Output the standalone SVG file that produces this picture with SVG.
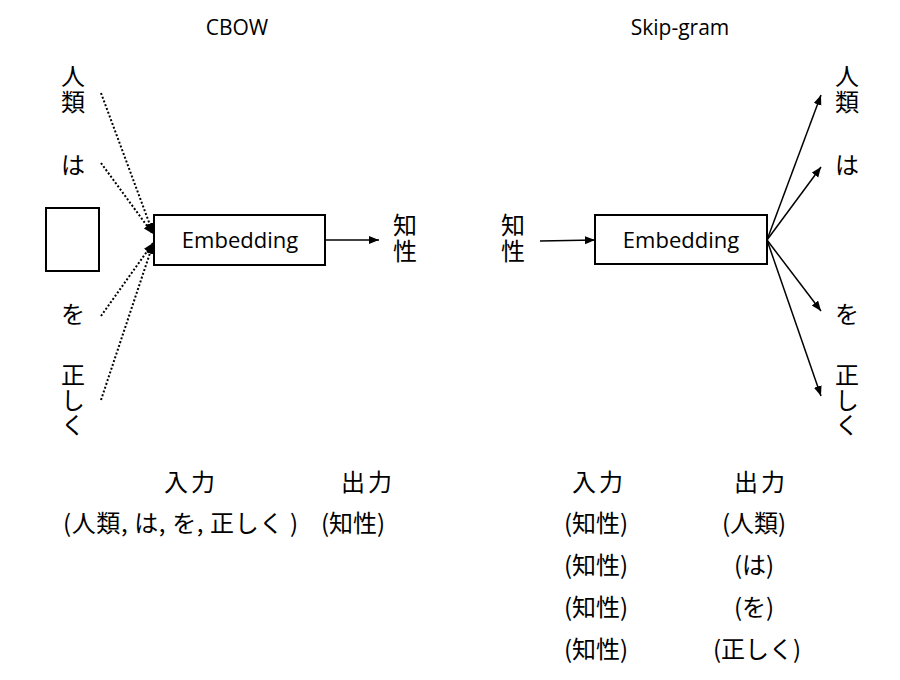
<svg xmlns="http://www.w3.org/2000/svg" width="900" height="680" viewBox="0 0 900 680">
  <style>
    .lat { font-family: "Open Sans", "Liberation Sans", sans-serif; fill: #000; }
    .jp { font-family: "Noto Sans CJK JP", "Noto Sans", sans-serif; font-size: 24px; fill: #000; }
    .vt { writing-mode: vertical-rl; }
    .box { fill: #fff; stroke: #000; stroke-width: 2; }
    .conn { fill: none; stroke: #000; stroke-width: 1.5; }
    .dot { fill: none; stroke: #000; stroke-width: 2; stroke-dasharray: 2 2; }
  </style>
  <defs>
    <marker id="ah" markerUnits="userSpaceOnUse" markerWidth="11" markerHeight="9" refX="10" refY="4" orient="auto">
      <path d="M0,0 L10,4 L0,8 z" fill="#000"/>
    </marker>
  </defs>
  <rect width="900" height="680" fill="#fff"/>

  <!-- titles -->
  <g id="title-cbow"><text class="lat" x="237" y="35" font-size="21" text-anchor="middle">CBOW</text></g>
  <g id="title-skipgram"><text class="lat" x="680" y="35" font-size="21" text-anchor="middle">Skip-gram</text></g>

  <!-- CBOW left words -->
  <g id="cbow-w1"><text class="jp vt" x="73" y="64" letter-spacing="2">人類</text></g>
  <g id="cbow-w2"><text class="jp" x="73" y="174" text-anchor="middle">は</text></g>
  <g id="cbow-blank"><rect class="box" x="46" y="208" width="53" height="63"/></g>
  <g id="cbow-w3"><text class="jp" x="73" y="323" text-anchor="middle">を</text></g>
  <g id="cbow-w4"><text class="jp vt" x="73" y="363" letter-spacing="1">正しく</text></g>

  <g id="cbow-embedding">
    <rect class="box" x="154" y="215" width="171" height="50"/>
    <text class="lat" x="240" y="248" font-size="22" text-anchor="middle">Embedding</text>
  </g>
  <g id="cbow-out"><text class="jp vt" x="405" y="213" letter-spacing="2">知性</text></g>

  <!-- Skip-gram -->
  <g id="sg-in"><text class="jp vt" x="513" y="213" letter-spacing="2">知性</text></g>
  <g id="sg-embedding">
    <rect class="box" x="595" y="215" width="172" height="49"/>
    <text class="lat" x="681" y="248" font-size="22" text-anchor="middle">Embedding</text>
  </g>
  <g id="sg-w1"><text class="jp vt" x="847" y="64" letter-spacing="2">人類</text></g>
  <g id="sg-w2"><text class="jp" x="847" y="174" text-anchor="middle">は</text></g>
  <g id="sg-w3"><text class="jp" x="847" y="323" text-anchor="middle">を</text></g>
  <g id="sg-w4"><text class="jp vt" x="847" y="363" letter-spacing="1">正しく</text></g>

  <!-- connectors -->
  <g id="connectors">
    <line class="dot" x1="101" y1="93" x2="153" y2="233" marker-end="url(#ah)"/>
    <line class="dot" x1="101" y1="163" x2="153" y2="234" marker-end="url(#ah)"/>
    <line class="dot" x1="101" y1="316" x2="153" y2="243" marker-end="url(#ah)"/>
    <line class="dot" x1="101" y1="400" x2="153" y2="244" marker-end="url(#ah)"/>
    <line class="conn" x1="325" y1="240" x2="379" y2="240" marker-end="url(#ah)"/>
    <line class="conn" x1="540" y1="241" x2="595" y2="240" marker-end="url(#ah)"/>
    <line class="conn" x1="767" y1="240" x2="821" y2="95" marker-end="url(#ah)"/>
    <line class="conn" x1="767" y1="240" x2="821" y2="167" marker-end="url(#ah)"/>
    <line class="conn" x1="767" y1="240" x2="821" y2="311" marker-end="url(#ah)"/>
    <line class="conn" x1="767" y1="240" x2="821" y2="396" marker-end="url(#ah)"/>
  </g>

  <!-- CBOW table -->
  <g id="cbow-table" class="jp">
    <text x="191" y="491" text-anchor="middle" letter-spacing="3">入力</text>
    <text x="368" y="491" text-anchor="middle" letter-spacing="3">出力</text>
    <text x="63" y="532" textLength="235" lengthAdjust="spacing">(人類, は, を, 正しく )</text>
    <text x="353" y="532" text-anchor="middle">(知性)</text>
  </g>

  <!-- Skip-gram table -->
  <g id="sg-table" class="jp" text-anchor="middle">
    <text x="599" y="491" letter-spacing="3">入力</text>
    <text x="761" y="491" letter-spacing="3">出力</text>
    <text x="596" y="532">(知性)</text>
    <text x="596" y="574">(知性)</text>
    <text x="596" y="616">(知性)</text>
    <text x="596" y="658">(知性)</text>
    <text x="754" y="532">(人類)</text>
    <text x="754" y="574">(は)</text>
    <text x="754" y="616">(を)</text>
    <text x="757" y="658">(正しく)</text>
  </g>
</svg>
